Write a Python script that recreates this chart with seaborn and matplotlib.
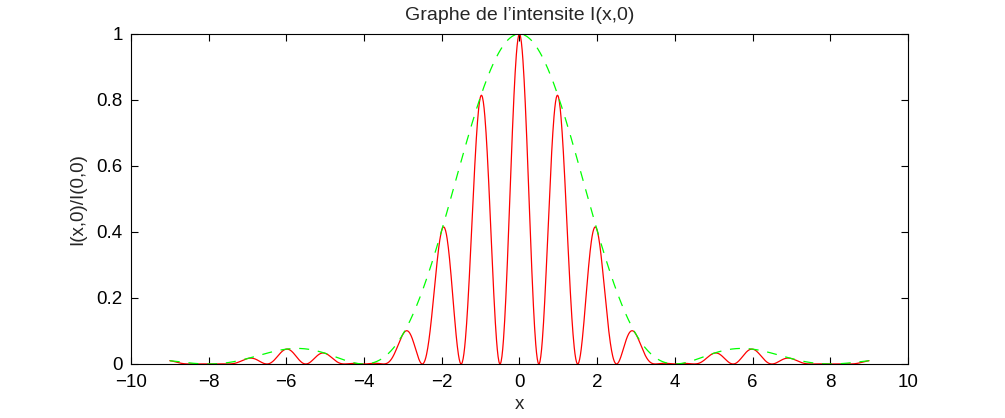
import numpy as np
import pandas as pd
import matplotlib
matplotlib.use("Agg")
import matplotlib.pyplot as plt
import seaborn as sns

# Curve parameters (diffraction by two slits)
x_start, x_end = -9.0, 9.0      # extent of the plotted curves
n_points = 1801
envelope_zero = 4.0             # first zero of the envelope (green)
fringe_period = 1.0             # spacing of the red peaks

x = np.linspace(x_start, x_end, n_points)
envelope = np.sinc(x / envelope_zero) ** 2
intensity = envelope * np.cos(np.pi * x / fringe_period) ** 2

df = pd.DataFrame({"x": x, "I": intensity, "env": envelope})

x_ticks = [-10, -8, -6, -4, -2, 0, 2, 4, 6, 8, 10]
y_ticks = [0, 0.2, 0.4, 0.6, 0.8, 1]
y_tick_labels = ["0", "0.2", "0.4", "0.6", "0.8", "1"]

sns.set_style("ticks")
plt.rcParams["font.family"] = ["Liberation Sans", "DejaVu Sans"]
plt.rcParams["xtick.direction"] = "in"
plt.rcParams["ytick.direction"] = "in"

fig = plt.figure(figsize=(10.05, 4.18), dpi=100)
ax = fig.add_axes([0.1303, 0.1292, 0.7731, 0.7895])

sns.lineplot(data=df, x="x", y="I", ax=ax, color="#ff0000", linewidth=0.9)
sns.lineplot(data=df, x="x", y="env", ax=ax, color="#00ff00", linewidth=0.9,
             linestyle=(0, (8, 7)))

ax.set_xlim(-10, 10)
ax.set_ylim(0, 1)
ax.set_xticks(x_ticks)
ax.set_xticklabels([str(t).replace("-", "\u2212") for t in x_ticks])
ax.set_yticks(y_ticks)
ax.set_yticklabels(y_tick_labels)
ax.tick_params(axis="both", labelsize=13.5, length=5, width=0.8,
               top=True, right=True, color="black", labelcolor="black")
ax.tick_params(axis="x", pad=7)
ax.tick_params(axis="y", pad=6)
for s in ax.spines.values():
    s.set_visible(True)
    s.set_linewidth(0.8)
    s.set_color("black")

ax.set_title("Graphe de l\u2019intensite I(x,0)", fontsize=14, pad=10)
ax.set_xlabel("x", fontsize=13.5, labelpad=4)
ax.set_ylabel("I(x,0)/I(0,0)", fontsize=13.5, labelpad=7)

fig.savefig("out.png", dpi=100)
